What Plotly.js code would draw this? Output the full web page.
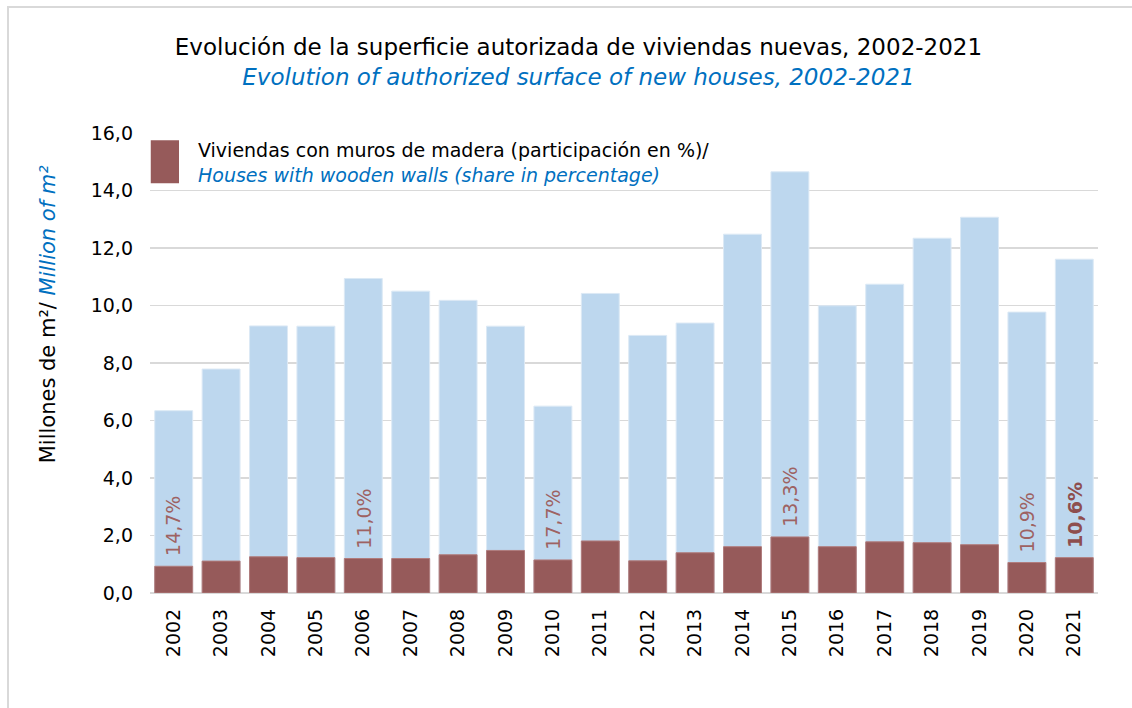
<!DOCTYPE html>
<html>
<head>
<meta charset="utf-8">
<script src="https://cdn.plot.ly/plotly-3.0.1.min.js"></script>
<style>
  html, body { margin: 0; padding: 0; background: #fff; }
  #wrap { position: relative; width: 1132px; height: 708px; overflow: hidden; }
  #frame { position: absolute; left: 7px; top: 6px; width: 1200px; height: 800px;
           border-left: 2px solid #d9d9d9; border-top: 2px solid #d9d9d9; box-sizing: border-box; pointer-events: none; }
  #chart { position: absolute; left: 0; top: 0; width: 1132px; height: 708px; }
</style>
</head>
<body>
<div id="wrap">
  <div id="chart"></div>
  <div id="frame"></div>
</div>
<script>
// Years (categories)
const years = ['2002','2003','2004','2005','2006','2007','2008','2009','2010','2011',
               '2012','2013','2014','2015','2016','2017','2018','2019','2020','2021'];
// Total authorized surface of new houses (million m²)
const totalSurface = [6.34, 7.79, 9.29, 9.28, 10.94, 10.50, 10.18, 9.28, 6.50, 10.42,
                      8.96, 9.39, 12.48, 14.65, 9.99, 10.74, 12.34, 13.07, 9.77, 11.61];
// Surface of houses with wooden walls (million m²)
const woodSurface = [0.93, 1.11, 1.26, 1.23, 1.20, 1.20, 1.33, 1.48, 1.15, 1.81,
                     1.12, 1.40, 1.61, 1.95, 1.61, 1.78, 1.75, 1.68, 1.06, 1.23];
// Share labels shown on selected bars
const labelYears = ['2002','2006','2010','2015','2020','2021'];
const labelTexts = ['14,7%','11,0%','17,7%','13,3%','10,9%','10,6%'];

const FONT = 'DejaVu Sans, Verdana, sans-serif';
const BLUE = '#0070C0';
const WOOD = '#965A5A';
const LIGHT = '#BDD7EE';

const traces = [
  {
    type: 'bar', x: years, y: totalSurface, name: 'Total',
    marker: { color: LIGHT, line: { color: '#DCE9F5', width: 1 } },
    hoverinfo: 'x+y', showlegend: false
  },
  {
    type: 'bar', x: years, y: woodSurface, name: 'Viviendas con muros de madera',
    marker: { color: WOOD, line: { color: '#B07C7C', width: 1 } },
    hoverinfo: 'x+y', showlegend: false
  }
];

const annotations = labelYears.map((yr, i) => {
  const idx = years.indexOf(yr);
  const bold = yr === '2021';
  return {
    x: idx, y: woodSurface[idx], xref: 'x', yref: 'y',
    text: bold ? '<b>' + labelTexts[i] + '</b>' : labelTexts[i],
    showarrow: false, textangle: -90, yanchor: 'bottom', xanchor: 'center',
    yshift: 8,
    font: { family: FONT, size: 19, color: bold ? '#8E4E4E' : '#9E6262' }
  };
});

// Y axis title
annotations.push({
  xref: 'paper', yref: 'paper', x: -0.1076, y: 0.608,
  text: 'Millones de m²/ <i><span style="color:' + BLUE + '">Million of m²</span></i>',
  showarrow: false, textangle: -90, xanchor: 'center', yanchor: 'middle',
  font: { family: FONT, size: 21, color: '#000' }
});

// Legend text
annotations.push({
  xref: 'paper', yref: 'paper', x: 0.0485, y: 0.936,
  text: 'Viviendas con muros de madera (participación en %)/<br><i><span style="color:' + BLUE + '">Houses with wooden walls (share in percentage)</span></i>',
  showarrow: false, xanchor: 'left', yanchor: 'middle', align: 'left',
  font: { family: FONT, size: 19, color: '#000' }
});

const layout = {
  width: 1132, height: 708,
  paper_bgcolor: 'rgba(0,0,0,0)', plot_bgcolor: '#fff',
  margin: { l: 150, r: 34, t: 133, b: 115 },
  barmode: 'overlay', bargap: 0.2,
  separators: ',.',
  font: { family: FONT, color: '#000' },
  title: {
    text: 'Evolución de la superficie autorizada de viviendas nuevas, 2002-2021<br><i><span style="color:' + BLUE + '">Evolution of authorized surface of new houses, 2002-2021</span></i>',
    x: 0.511, xref: 'container', xanchor: 'center',
    y: 0.922, yref: 'container', yanchor: 'top',
    font: { family: FONT, size: 23, color: '#000' }
  },
  xaxis: {
    type: 'category', tickangle: -90, showgrid: false,
    range: [-0.5, 19.5],
    tickfont: { family: FONT, size: 19, color: '#000' },
    ticks: '', showline: false, ticklabelstandoff: 11
  },
  yaxis: {
    range: [0, 16], dtick: 2, tickformat: '.1f',
    showgrid: true, gridcolor: '#D9D9D9', gridwidth: 1.5,
    zeroline: true, zerolinecolor: '#D9D9D9', zerolinewidth: 2,
    tickfont: { family: FONT, size: 19, color: '#000' },
    ticks: '', ticklabelstandoff: 16, showline: false
  },
  shapes: [{
    type: 'rect', xref: 'paper', yref: 'paper',
    x0: 0.0008, x1: 0.0306, y0: 0.891, y1: 0.984,
    fillcolor: WOOD, line: { width: 0 }
  }],
  annotations: annotations
};

Plotly.newPlot('chart', traces, layout, { displayModeBar: false, staticPlot: true });
</script>
</body>
</html>
